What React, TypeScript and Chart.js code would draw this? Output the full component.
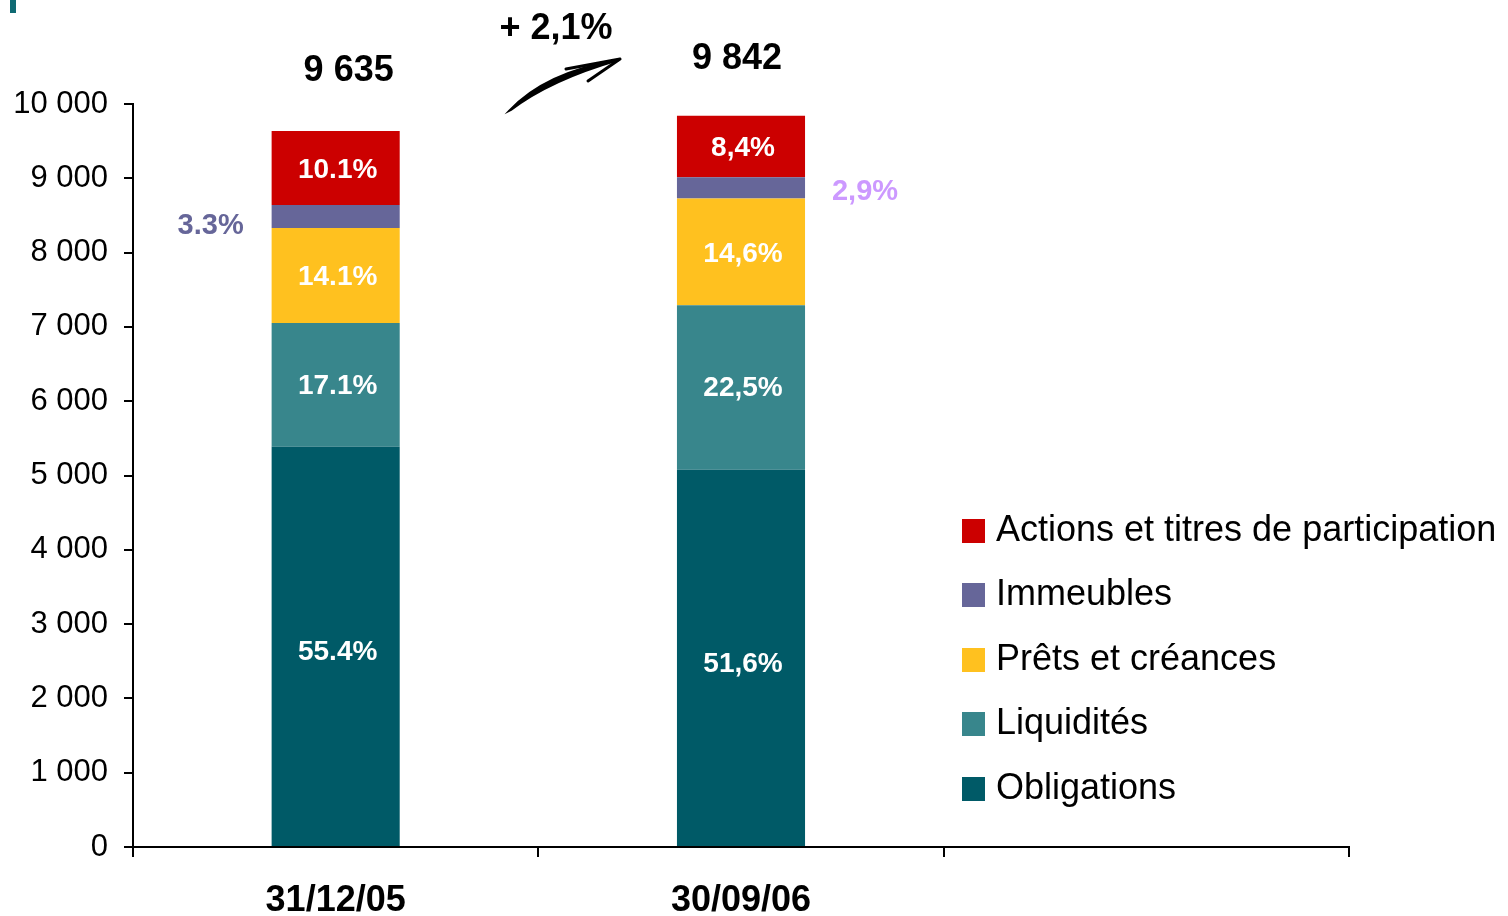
import React, { useEffect, useRef } from "react";
import { Chart, registerables } from "chart.js";

Chart.register(...registerables);

const categories = ["31/12/05", "30/09/06", ""];
const obligations = [5388, 5078, null];
const liquidites = [1664, 2214, null];
const prets = [1279, 1437, null];
const immeubles = [310, 285, null];
const actions = [994, 828, null];

const obligationsLabels = ["55.4%", "51,6%"];
const liquiditesLabels = ["17.1%", "22,5%"];
const pretsLabels = ["14.1%", "14,6%"];
const actionsLabels = ["10.1%", "8,4%"];
const immeublesLabels = ["3.3%", "2,9%"];
const totals = ["9 635", "9 842"];
const growthLabel = "+ 2,1%";

const seriesNames = [
  "Obligations",
  "Liquidités",
  "Prêts et créances",
  "Immeubles",
  "Actions et titres de participation",
];
const seriesColors = ["#005A67", "#38868C", "#FFC11F", "#666699", "#CC0000"];

const FONT = "'Liberation Sans', Arial, sans-serif";

const annotPlugin = {
  id: "annot",
  afterDatasetsDraw(chart: any) {
    const ctx = chart.ctx;
    ctx.save();
    ctx.textAlign = "center";
    ctx.textBaseline = "middle";
    ctx.fillStyle = "#ffffff";
    ctx.font = `bold 28px ${FONT}`;
    const inside: [number, string[], number][] = [
      [0, obligationsLabels, 6],
      [1, liquiditesLabels, 1],
      [2, pretsLabels, 2],
      [4, actionsLabels, 2],
    ];
    inside.forEach(([di, labels, dy]) => {
      const meta = chart.getDatasetMeta(di);
      labels.forEach((t, j) => {
        const el = meta.data[j];
        if (!el) return;
        ctx.fillText(t, el.x + 2, (el.y + el.base) / 2 + dy);
      });
    });
    // Immeubles labels outside
    const im = chart.getDatasetMeta(3);
    ctx.font = `bold 29px ${FONT}`;
    const e0 = im.data[0];
    const e1 = im.data[1];
    ctx.fillStyle = "#666699";
    ctx.fillText(immeublesLabels[0], e0.x - 125, e0.y + 21);
    ctx.fillStyle = "#CC99FF";
    ctx.fillText(immeublesLabels[1], e1.x + 124, e1.y + 15);
    ctx.restore();
  },
  afterDraw(chart: any) {
    const ctx = chart.ctx;
    ctx.save();
    // teal mark top-left
    ctx.fillStyle = "#0F6A73";
    ctx.fillRect(10, 0, 6, 13);

    // totals
    const top = chart.getDatasetMeta(4);
    ctx.fillStyle = "#000";
    ctx.textAlign = "center";
    ctx.textBaseline = "middle";
    ctx.font = `bold 36px ${FONT}`;
    const t0 = top.data[0];
    const t1 = top.data[1];
    ctx.fillText(totals[0], t0.x + 13, t0.y - 60);
    ctx.fillText(totals[1], t1.x - 4, t1.y - 57);
    ctx.fillText(growthLabel, 556, 29);

    // arrow
    ctx.strokeStyle = "#000";
    ctx.fillStyle = "#000";
    ctx.lineCap = "round";
    ctx.beginPath();
    ctx.moveTo(509, 111);
    ctx.quadraticCurveTo(545, 72, 619, 60);
    ctx.quadraticCurveTo(550, 80, 511, 110);
    ctx.closePath();
    ctx.lineWidth = 2;
    ctx.fill();
    ctx.stroke();
    ctx.lineWidth = 3;
    ctx.beginPath();
    ctx.moveTo(620, 59);
    ctx.lineTo(588, 81);
    ctx.moveTo(620, 59);
    ctx.lineTo(566, 69);
    ctx.stroke();

    // legend
    const rows = [531, 595, 660, 724, 789];
    const order = [4, 3, 2, 1, 0];
    ctx.textAlign = "left";
    ctx.font = `36px ${FONT}`;
    order.forEach((si, r) => {
      ctx.fillStyle = seriesColors[si];
      ctx.fillRect(962, rows[r] - 12, 23, 24);
      ctx.fillStyle = "#000";
      ctx.fillText(seriesNames[si], 996, rows[r]);
    });
    ctx.restore();
  },
};

export default function App() {
  const ref = useRef<HTMLCanvasElement>(null);
  useEffect(() => {
    document.body.style.margin = "0";
    const vals = [obligations, liquidites, prets, immeubles, actions];
    const chart = new Chart(ref.current!, {
      type: "bar",
      data: {
        labels: categories,
        datasets: vals.map((v, i) => ({
          label: seriesNames[i],
          data: v as any,
          backgroundColor: seriesColors[i],
          borderWidth: 0,
          categoryPercentage: 1,
          barPercentage: 0.316,
        })),
      },
      options: {
        animation: false,
        responsive: false,
        layout: { padding: { top: 104, right: 159, left: 0, bottom: 0 } },
        plugins: { legend: { display: false }, tooltip: { enabled: false } },
        scales: {
          x: {
            stacked: true,
            grid: {
              drawOnChartArea: false,
              drawTicks: true,
              tickLength: 10,
              color: "#000",
              lineWidth: 2,
            },
            border: { color: "#000", width: 2 },
            ticks: {
              color: "#000",
              font: { family: FONT, size: 36, weight: "bold" },
              padding: 22,
              maxRotation: 0,
            },
            afterFit: (s: any) => {
              s.height = 69;
            },
          },
          y: {
            stacked: true,
            min: 0,
            max: 10000,
            grid: {
              drawOnChartArea: false,
              drawTicks: true,
              tickLength: 9,
              color: "#000",
              lineWidth: 2,
            },
            border: { color: "#000", width: 2 },
            ticks: {
              stepSize: 1000,
              color: "#000",
              padding: 16,
              font: { family: FONT, size: 31 },
              callback: (v: any) =>
                String(v).replace(/\B(?=(\d{3})+(?!\d))/g, " "),
            },
            afterFit: (s: any) => {
              s.width = 133;
            },
          },
        },
      },
      plugins: [annotPlugin],
    });
    return () => chart.destroy();
  }, []);
  return <canvas ref={ref} width={1508} height={916} style={{ display: "block" }} />;
}
